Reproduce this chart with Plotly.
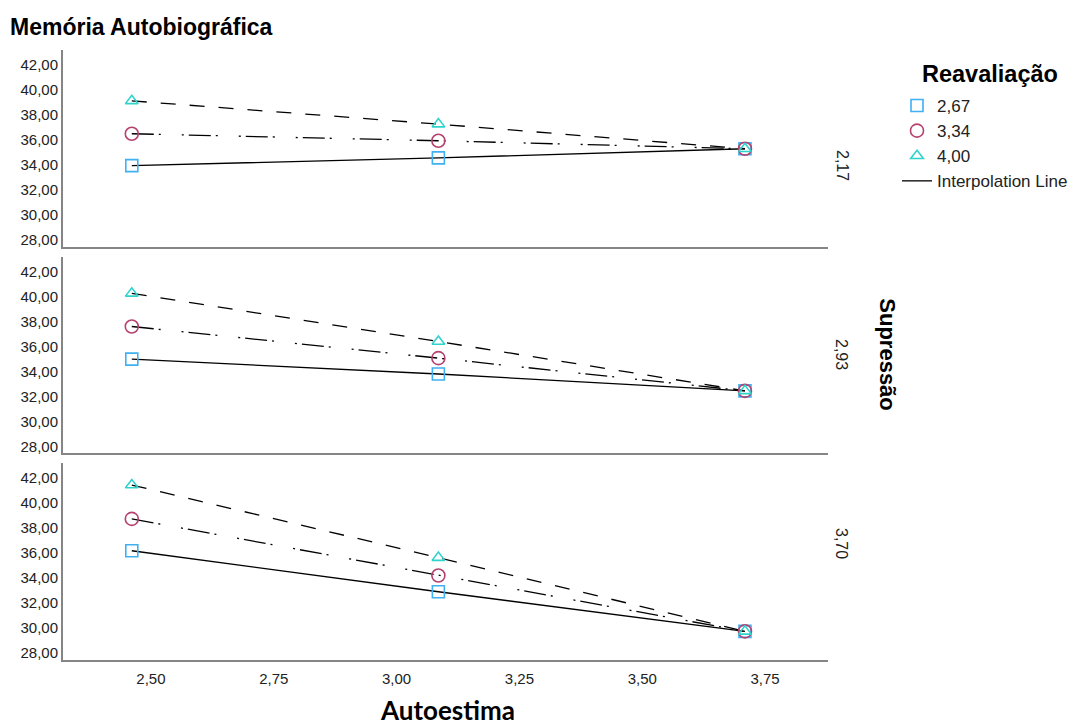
import plotly.graph_objects as go
from plotly.subplots import make_subplots

# ---- data ----
autoestima = [2.461, 3.085, 3.709]
x_ticks = [2.50, 2.75, 3.00, 3.25, 3.50, 3.75]
y_ticks = [28, 30, 32, 34, 36, 38, 40, 42]

supressao_levels = ["2,17", "2,93", "3,70"]
reavaliacao_levels = ["2,67", "3,34", "4,00"]

# Memória Autobiográfica, panel Supressão = 2,17
s217_r267 = [33.95, 34.57, 35.30]
s217_r334 = [36.50, 35.94, 35.30]
s217_r400 = [39.13, 37.27, 35.30]
# Supressão = 2,93
s293_r267 = [34.99, 33.80, 32.45]
s293_r334 = [37.60, 35.07, 32.45]
s293_r400 = [40.25, 36.40, 32.45]
# Supressão = 3,70
s370_r267 = [36.18, 32.90, 29.73]
s370_r334 = [38.73, 34.20, 29.73]
s370_r400 = [41.44, 35.63, 29.73]

panels = [
    [s217_r267, s217_r334, s217_r400],
    [s293_r267, s293_r334, s293_r400],
    [s370_r267, s370_r334, s370_r400],
]

# ---- styles ----
marker_symbols = ["square-open", "circle-open", "triangle-up-open"]
marker_colors = ["#3fb0f2", "#b5416e", "#2fd3cb"]
marker_sizes = [12, 13, 11]
line_dashes = ["solid", "22px,5px,2px,21px,2px,5px", "15px,14px"]

FONT = "Liberation Sans"
OFF = 8  # page body margin offset

fig = make_subplots(rows=3, cols=1, shared_xaxes=True, vertical_spacing=0.0156)

for r, series in enumerate(panels, start=1):
    for g, ys in enumerate(series):
        fig.add_trace(go.Scatter(
            x=autoestima, y=ys, mode="lines",
            line=dict(color="black", width=1.3, dash=line_dashes[g]),
            showlegend=False, hoverinfo="skip"), row=r, col=1)
    for g, ys in enumerate(series):
        fig.add_trace(go.Scatter(
            x=autoestima, y=ys, mode="markers",
            name=reavaliacao_levels[g],
            marker=dict(symbol=marker_symbols[g], color=marker_colors[g],
                        size=marker_sizes[g], line=dict(width=1.6, color=marker_colors[g])),
            showlegend=(r == 1)), row=r, col=1)

fig.add_trace(go.Scatter(x=[None], y=[None], mode="lines", name="Interpolation Line",
                         line=dict(color="black", width=1.3)), row=1, col=1)

axis_line = dict(showline=True, linecolor="#858585", linewidth=2, showgrid=False,
                 zeroline=False, ticks="")
for r in range(1, 4):
    fig.update_xaxes(range=[2.321, 3.878], tickvals=x_ticks, tickformat=".2f",
                     showticklabels=(r == 3), tickfont=dict(family=FONT, size=15, color="#222"),
                     ticklabelstandoff=4, row=r, col=1, **axis_line)
    fig.update_yaxes(range=[27.44, 43.2], tickvals=y_ticks, tickformat=".2f",
                     tickfont=dict(family=FONT, size=15, color="#222"),
                     row=r, col=1, **axis_line)

annotations = []
dom_h = (1 - 2 * 0.0156) / 3
for i, lab in enumerate(supressao_levels):
    top = 1 - i * (dom_h + 0.0156)
    annotations.append(dict(text=lab, xref="paper", yref="paper", x=1.032,
                            y=top - dom_h / 2, textangle=90, showarrow=False,
                            font=dict(family=FONT, size=16, color="#222")))
annotations.append(dict(text="<b>Supressão</b>", xref="paper", yref="paper", x=1.097,
                        y=0.5, textangle=90, showarrow=False,
                        font=dict(family=FONT, size=22, color="black")))
annotations.append(dict(text="<b>Autoestima</b>", xref="paper", yref="paper", x=0.503,
                        y=-0.112, showarrow=False,
                        font=dict(family="Lato", size=26, color="black")))
# legend title
annotations.append(dict(text="<b>Reavaliação</b>", xref="paper", yref="paper",
                        x=(990 - OFF - 53) / 767, y=1 - (74 - OFF - 42) / 610,
                        xanchor="center", yanchor="middle", showarrow=False,
                        font=dict(family=FONT, size=23.5, color="black")))

fig.update_layout(
    width=1081, height=727,
    margin=dict(l=61 - OFF, r=1081 - (828 - OFF), t=50 - OFF, b=727 - (660 - OFF)),
    plot_bgcolor="white", paper_bgcolor="white",
    separators=",.",
    title=dict(text="<b>Memória Autobiográfica</b>", x=(10 - OFF) / 1081, xanchor="left",
               y=1 - (27 - OFF) / 727, yanchor="middle",
               font=dict(family=FONT, size=23, color="black")),
    legend=dict(xref="container", yref="container", x=(898 - 9) / 1081,
                y=1 - (88 - OFF) / 727,
                xanchor="left", yanchor="top",
                font=dict(family=FONT, size=17, color="#222"),
                bgcolor="rgba(0,0,0,0)", itemwidth=30),
    annotations=annotations,
    showlegend=True,
)

fig.write_html("out.html")
